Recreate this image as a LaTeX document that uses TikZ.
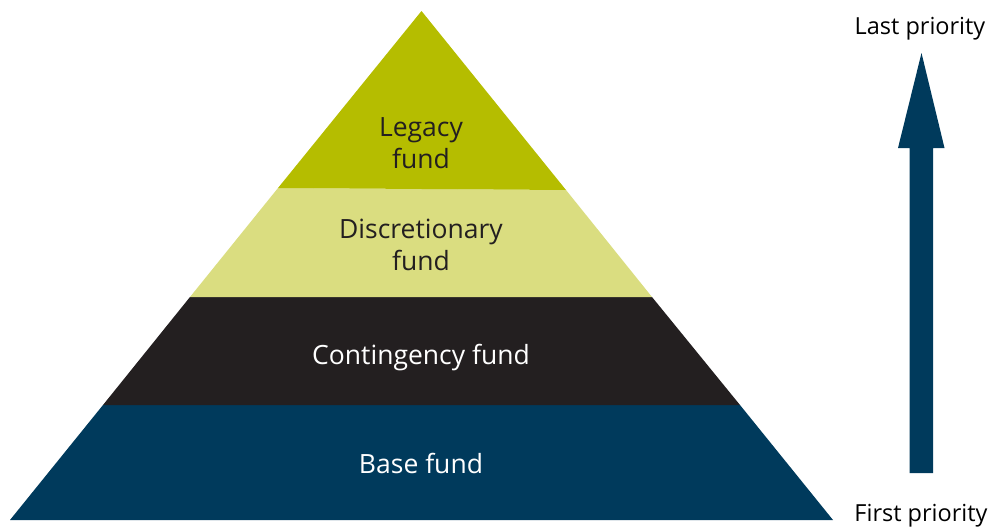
\documentclass[tikz,border=0pt]{standalone}
\usepackage{fontspec}
\setmainfont{Open Sans}
\definecolor{legacy}{HTML}{B5BD00}
\definecolor{discr}{HTML}{DADD80}
\definecolor{conting}{HTML}{231F20}
\definecolor{basec}{HTML}{003A5C}
\begin{document}
\begin{tikzpicture}[x=1pt,y=-1pt,
  layertext/.style={font=\fontsize{26.5}{32}\selectfont, align=center, inner sep=0pt},
  darktext/.style={layertext, text=conting},
  lighttext/.style={layertext, text=white},
  sidetext/.style={font=\fontsize{23.5}{28}\selectfont, text=black, inner sep=0pt}]
\useasboundingbox (0,0) rectangle (993,530);
% layers
\fill[basec] (103,405) -- (740,405) -- (833,520) -- (10,520) -- cycle;
\fill[conting] (190,297) -- (652,297) -- (740,405) -- (103,405) -- cycle;
\fill[discr] (278,188) -- (566,190) -- (652,297) -- (190,297) -- cycle;
\fill[legacy] (421.5,11) -- (566,190) -- (278,188) -- cycle;
% labels
\node[darktext] (legacy) at (421,143) {Legacy\\fund};
\node[darktext] (discr) at (421,245) {Discretionary\\fund};
\node[lighttext] (conting) at (421,358) {Contingency fund};
\node[lighttext] (base) at (421,463) {Base fund};
% arrow
\fill[basec] (909.5,473) -- (933,473) -- (933,148) -- (944.5,148) -- (921.5,53) -- (898,148) -- (909.5,148) -- cycle;
\coordinate (arrowtip) at (921.5,53);
\node[sidetext] (last) at (920,29) {Last priority};
\node[sidetext] (first) at (921,516) {First priority};
\end{tikzpicture}
\end{document}
